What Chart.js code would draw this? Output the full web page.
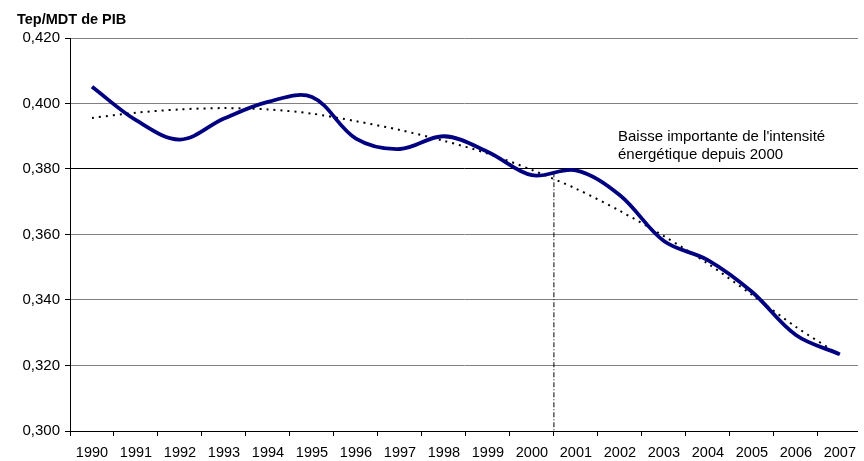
<!DOCTYPE html>
<html>
<head>
<meta charset="utf-8">
<script src="https://cdn.jsdelivr.net/npm/chart.js@4/dist/chart.umd.min.js"></script>
<style>
html,body{margin:0;padding:0;background:#fff;overflow:hidden}
#box{width:864px;height:461px;position:relative}
</style>
</head>
<body>
<div id="box"><canvas id="grafico"></canvas></div>
<script>
/* DONNÉES */

const annees=[1990,1991,1992,1993,1994,1995,1996,1997,1998,1999,2000,2001,2002,2003,2004,2005,2006,2007]

const intensite=[0.4051,0.3949,0.3890,0.3954,0.4005,0.4020,0.3893,0.3861,0.3900,0.3852,0.3781,0.3796,0.3720,0.3580,0.3522,0.3425,0.3293,0.3234]

const tendance=[0.3956,0.3972,0.3982,0.3986,0.3982,0.3969,0.3946,0.3919,0.3886,0.3847,0.3797,0.3740,0.3672,0.3595,0.3511,0.3416,0.3318,0.3232]

const repereX=[2000.5,2000.5]
const repereY=[0.3790,0.300]

const yTicks=[0.300,0.320,0.340,0.360,0.380,0.400,0.420]

const titre="Tep/MDT de PIB"
const note=["Baisse importante de l'intensité","énergétique depuis 2000"]

const police="'Liberation Sans', Arial, sans-serif"

/* TEXTES */

const textes={
id:"textes",
afterDraw(chart){
const c=chart.ctx
c.save()
c.fillStyle="#000"
c.textBaseline="alphabetic"
c.textAlign="left"
c.font="bold 14.5px "+police
c.fillText(titre,17,24)
c.font="15px "+police
c.fillText(note[0],618,141)
c.fillText(note[1],618,159)
c.restore()
}
}

/* GRAPHIQUE */

const ctx=document.getElementById("grafico")

new Chart(ctx,{
type:"line",
data:{
datasets:[
{
data:annees.map((a,i)=>({x:a,y:intensite[i]})),
borderColor:"#000080",
borderWidth:3.8,
pointRadius:0,
tension:0.35,
fill:false
},
{
data:annees.map((a,i)=>({x:a,y:tendance[i]})),
borderColor:"#000",
borderWidth:2,
borderDash:[2,5],
pointRadius:0,
tension:0.3,
fill:false
},
{
data:repereX.map((a,i)=>({x:a,y:repereY[i]})),
borderColor:"#000",
borderWidth:1,
borderDash:[5,2,1,2],
pointRadius:0,
tension:0,
fill:false
}
]
},
options:{
responsive:true,
maintainAspectRatio:false,
animation:false,
layout:{padding:{top:38,left:0,right:0,bottom:0}},
plugins:{
legend:{display:false},
tooltip:{enabled:false}
},
scales:{
x:{
type:"linear",
min:1989.5,
max:2007.41,
afterBuildTicks:(s)=>{s.ticks=annees.map(v=>({value:v}))},
afterFit:(s)=>{s.height=30},
grid:{offset:true,drawOnChartArea:false,drawTicks:true,tickLength:5,tickColor:"#000"},
border:{color:"#000",width:1},
ticks:{
autoSkip:false,
maxRotation:0,
padding:8,
color:"#000",
font:{family:police,size:14.5},
callback:(v)=>String(v)
}
},
y:{
min:0.300,
max:0.420,
afterBuildTicks:(s)=>{s.ticks=yTicks.map(v=>({value:v}))},
afterFit:(s)=>{s.width=70},
grid:{
color:(c)=>Math.abs(c.tick.value-0.38)<1e-6?"#000":"#808080",
lineWidth:1,
drawTicks:true,
tickLength:5,
tickColor:"#000"
},
border:{color:"#000",width:1},
ticks:{
padding:5,
color:"#000",
font:{family:police,size:15},
callback:(v)=>v.toFixed(3).replace(".",",")
}
}
}
},
plugins:[textes]
})
</script>
</body>
</html>
